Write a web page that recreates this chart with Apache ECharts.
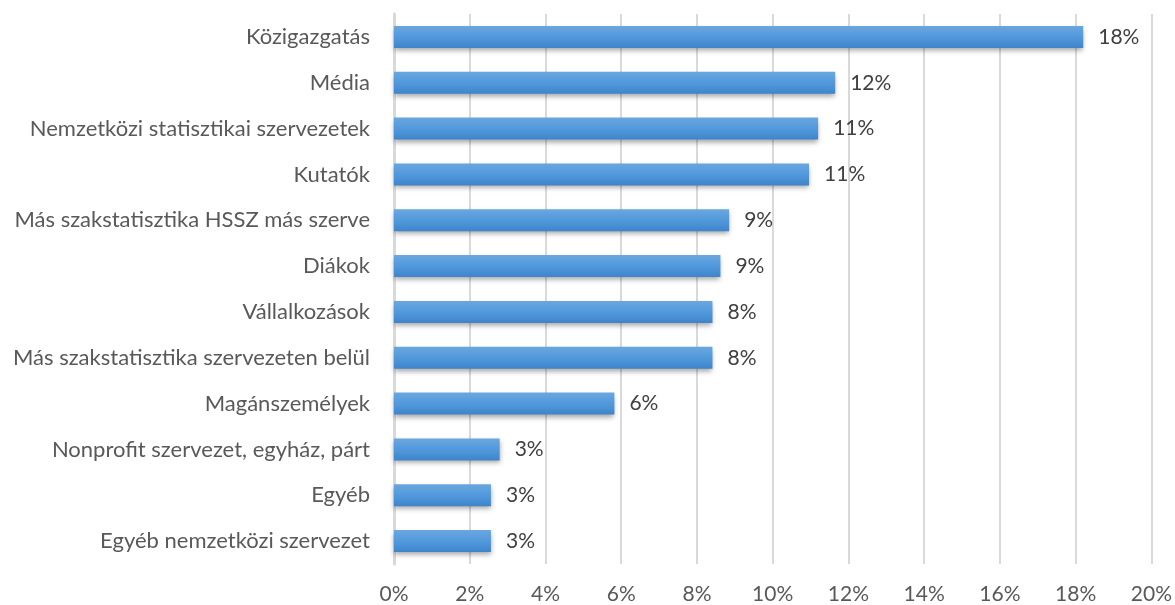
<!DOCTYPE html>
<html>
<head>
<meta charset="utf-8">
<script src="https://cdn.jsdelivr.net/npm/echarts@6/dist/echarts.min.js"></script>
<style>
  html, body { margin: 0; padding: 0; background: #fff; }
  #chart { width: 1175px; height: 605px; }
</style>
</head>
<body>
<div id="chart"></div>
<script>
// kategóriák felülről lefelé
const categories = [
  'Közigazgatás',
  'Média',
  'Nemzetközi statisztikai szervezetek',
  'Kutatók',
  'Más szakstatisztika HSSZ más szerve',
  'Diákok',
  'Vállalkozások',
  'Más szakstatisztika szervezeten belül',
  'Magánszemélyek',
  'Nonprofit szervezet, egyház, párt',
  'Egyéb',
  'Egyéb nemzetközi szervezet'
];
// arányok (%)
const values = [18.2, 11.65, 11.2, 10.96, 8.85, 8.62, 8.41, 8.41, 5.82, 2.79, 2.56, 2.56];
const xTicks = [0, 2, 4, 6, 8, 10, 12, 14, 16, 18, 20];

const chart = echarts.init(document.getElementById('chart'));
const font = 'Lato, "Open Sans", sans-serif';

const option = {
  animation: false,
  textStyle: { fontFamily: font },
  grid: { left: 394, right: 22, top: 14, bottom: 39 },
  xAxis: {
    type: 'value',
    min: xTicks[0],
    max: xTicks[xTicks.length - 1],
    interval: 2,
    axisLine: { show: false },
    axisTick: { show: false },
    splitLine: { lineStyle: { color: '#d9d9d9', width: 2 } },
    axisLabel: {
      color: '#595959',
      fontSize: 21,
      fontFamily: font,
      margin: 20,
      formatter: v => v + '%'
    }
  },
  yAxis: {
    type: 'category',
    inverse: true,
    data: categories,
    axisLine: { lineStyle: { color: '#d9d9d9', width: 3 } },
    axisTick: { show: false },
    axisLabel: { color: '#595959', fontSize: 22, fontFamily: font, margin: 24 }
  },
  series: [{
    type: 'bar',
    data: values,
    barWidth: 22,
    itemStyle: {
      color: new echarts.graphic.LinearGradient(0, 0, 0, 1, [
        { offset: 0, color: '#6ba7de' },
        { offset: 0.5, color: '#5199dc' },
        { offset: 1, color: '#3f84cb' }
      ]),
      shadowColor: 'rgba(0,0,0,0.35)',
      shadowBlur: 5,
      shadowOffsetY: 3
    },
    label: {
      show: true,
      position: 'right',
      distance: 15,
      color: '#404040',
      fontSize: 21,
      fontFamily: font,
      formatter: p => Math.round(p.value) + '%'
    }
  }]
};
chart.setOption(option);
</script>
</body>
</html>
